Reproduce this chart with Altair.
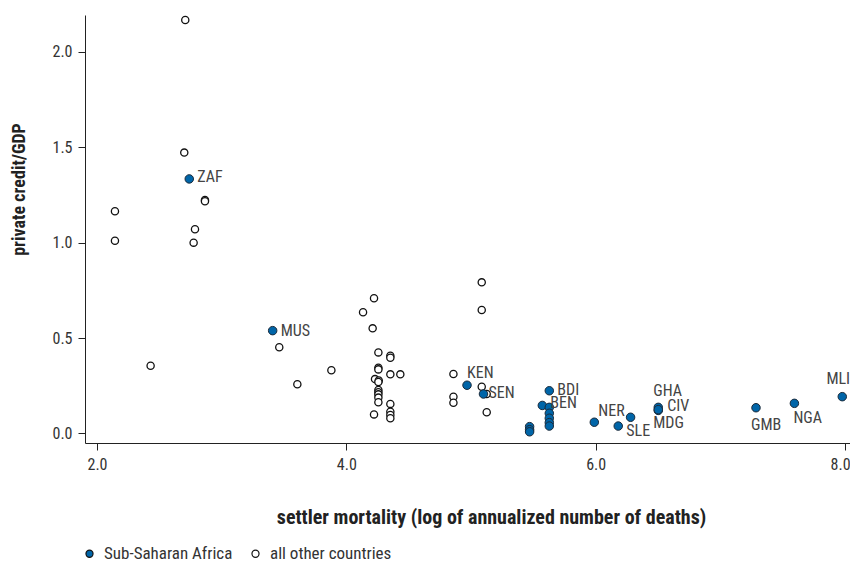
import altair as alt
import pandas as pd

# ---- data ----
ssa_x = [2.74, 3.409, 4.968, 5.10, 5.47, 5.47, 5.47, 5.628, 5.572, 5.628, 5.628,
         5.628, 5.628, 5.628, 5.989, 6.181, 6.28, 6.502, 6.502, 6.502, 7.286, 7.594, 7.978]
ssa_y = [1.334, 0.539, 0.253, 0.207, 0.036, 0.020, 0.009, 0.224, 0.147, 0.137, 0.106,
         0.080, 0.057, 0.039, 0.059, 0.039, 0.085, 0.137, 0.121, 0.125, 0.135, 0.158, 0.193]
ssa_lab = ["ZAF", "MUS", "KEN", "SEN", "", "", "", "BDI", "BEN", "", "",
           "", "", "", "NER", "SLE", "", "GHA", "CIV", "MDG", "GMB", "NGA", "MLI"]

oth_x = [2.708, 2.70, 2.866, 2.866, 2.144, 2.144, 2.786, 2.775, 2.43, 3.462, 3.607, 3.88,
         4.222, 4.134, 4.211, 4.257, 4.353, 4.353, 4.257, 4.257, 4.353, 4.433, 4.23, 4.26,
         4.257, 4.257, 4.257, 4.257, 4.257, 4.257, 4.222, 4.353, 4.353, 4.353, 4.353,
         5.086, 5.086, 4.859, 4.859, 4.859, 5.086, 5.126, 5.126]
oth_y = [2.167, 1.472, 1.224, 1.217, 1.165, 1.010, 1.070, 1.000, 0.355, 0.452, 0.258, 0.331,
         0.709, 0.635, 0.551, 0.425, 0.408, 0.397, 0.345, 0.336, 0.310, 0.310, 0.285, 0.278,
         0.270, 0.228, 0.216, 0.205, 0.188, 0.164, 0.100, 0.155, 0.114, 0.097, 0.080,
         0.792, 0.647, 0.312, 0.193, 0.161, 0.245, 0.207, 0.111]

groups = ["Sub-Saharan Africa", "all other countries"]

ssa = pd.DataFrame({"x": ssa_x, "y": ssa_y, "label": ssa_lab, "group": groups[0]})
oth = pd.DataFrame({"x": oth_x, "y": oth_y, "label": "", "group": groups[1]})

FONT = "Liberation Sans Narrow, Roboto Condensed, DejaVu Sans Condensed, sans-serif"
BLUE = "#0065a8"

xscale = alt.Scale(domain=[1.9037, 8.04], nice=False, zero=False)
yscale = alt.Scale(domain=[-0.0498, 2.193], nice=False, zero=False)
fillscale = alt.Scale(domain=groups, range=[BLUE, "#ffffff"])

xenc = alt.X("x:Q", scale=xscale,
             axis=alt.Axis(title="settler mortality (log of annualized number of deaths)",
                           values=[2, 4, 6, 8], format=".1f", grid=False,
                           titleX=406, titleY=74, titleBaseline="middle",
                           titleFontSize=20,
                           labelOffset={"condition": {"test": "datum.value == 8", "value": -5},
                                        "value": 0}))
yenc = alt.Y("y:Q", scale=yscale,
             axis=alt.Axis(title="private credit/GDP", values=[0, 0.5, 1, 1.5, 2],
                           format=".1f", grid=False, titleX=-66, titleY=174,
                           titleBaseline="middle", titleAngle=-90, titleFontSize=18))

legend = alt.Legend(title=None, orient="none", direction="horizontal",
                    legendX=-4, legendY=530, symbolSize=50, symbolStrokeColor="#111",
                    symbolStrokeWidth=1.2, labelFontSize=17, labelColor="#333",
                    labelFont=FONT, columnPadding=14, labelOffset=6)

open_pts = alt.Chart(oth).mark_point(shape="circle", filled=True, size=52,
                                     stroke="#111", strokeWidth=1.3, opacity=1).encode(
    x=xenc, y=yenc, fill=alt.Fill("group:N", scale=fillscale, legend=legend))

ssa_pts = alt.Chart(ssa).mark_point(shape="circle", filled=True, size=72,
                                    stroke="#1a2a3a", strokeWidth=1.0, opacity=1).encode(
    x="x:Q", y="y:Q", fill=alt.Fill("group:N", scale=fillscale, legend=legend))

# label placement (styling only): dx, dy, align
OFFS = {
    "ZAF": (8, -2, "left"), "MUS": (8, 0, "left"), "SEN": (5, -1, "left"),
    "BDI": (8, -1, "left"), "BEN": (8, -2, "left"), "CIV": (9, -4, "left"),
    "KEN": (0, -12, "left"), "NER": (4, -11, "left"), "GHA": (-5, -16, "left"),
    "SLE": (8, 5, "left"), "MDG": (-5, 13, "left"), "GMB": (-5, 17, "left"),
    "NGA": (-1, 15, "left"), "MLI": (-4, -18, "center"),
}

texts = []
for lab, (dx, dy, al) in OFFS.items():
    texts.append(
        alt.Chart(ssa).transform_filter(alt.datum.label == lab).mark_text(
            dx=dx, dy=dy, align=al, baseline="middle", fontSize=16,
            font=FONT, color="#444").encode(x="x:Q", y="y:Q", text="label:N"))

chart = alt.layer(open_pts, ssa_pts, *texts).properties(
    width=765, height=428,
    autosize=alt.AutoSizeParams(type="none"),
    padding={"left": 77, "top": 7, "right": 0, "bottom": 121},
).configure_view(stroke=None).configure_axis(
    labelFont=FONT, titleFont=FONT, labelFontSize=16, labelColor="#333",
    titleFontWeight="bold", titleColor="#222",
    domainColor="#222", tickColor="#222", tickSize=7, labelPadding=6,
    domainWidth=1, tickWidth=1
)

chart.save("out.html", embed_options={"renderer": "svg", "actions": False})
